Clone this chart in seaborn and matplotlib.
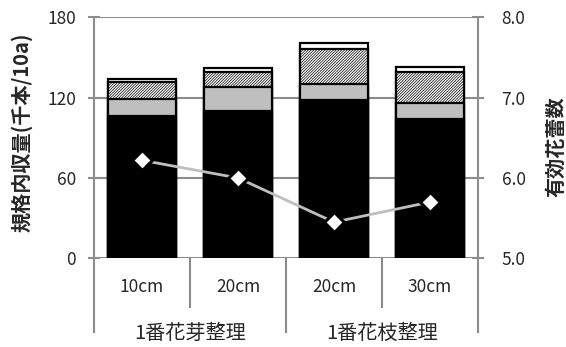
import matplotlib
matplotlib.use("Agg")
import matplotlib.pyplot as plt
import matplotlib.transforms as mtransforms
import numpy as np
import pandas as pd
import seaborn as sns

# Treatments: pruning method (group) and length (sub-category)
groups = ["1番花芽整理", "1番花芽整理", "1番花枝整理", "1番花枝整理"]
lengths = ["10cm", "20cm", "20cm", "30cm"]

# Marketable yield (thousand stems / 10a), stacked by grade
yield_black = [106, 110, 118, 104]
yield_gray = [13, 18, 12, 12]
yield_hatched = [13, 11, 26, 23]
yield_white = [2, 3, 5, 4]

# Effective flower buds per stem (right axis)
flower_buds = [6.22, 6.0, 5.45, 5.7]

AXIS_GRAY = "#8c8c8c"
LIGHT_GRAY = "#bfbfbf"

sns.set_style("white")
plt.rcParams["font.family"] = ["Noto Sans CJK JP", "DejaVu Sans"]
plt.rcParams["hatch.linewidth"] = 0.5

treat = [g + " " + l for g, l in zip(groups, lengths)]
c1 = np.array(yield_black)
c2 = c1 + np.array(yield_gray)
c3 = c2 + np.array(yield_hatched)
c4 = c3 + np.array(yield_white)
df = pd.DataFrame({"treat": treat, "c1": c1, "c2": c2, "c3": c3, "c4": c4,
                   "buds": flower_buds})

fig = plt.figure(figsize=(5.66, 3.47), dpi=100)
ax = fig.add_axes([94 / 566, 88.7 / 347, 384 / 566, 241 / 347])

common = dict(data=df, x="treat", order=treat, ax=ax, width=0.7,
              errorbar=None, edgecolor="black", linewidth=1.6)
sns.barplot(y="c4", color="white", **common)
sns.barplot(y="c3", color="white", hatch="////////////", **common)
sns.barplot(y="c2", color=LIGHT_GRAY, **common)
sns.barplot(y="c1", color="black", **common)

ax.set_ylim(0, 180)
ax.set_yticks([0, 60, 120, 180])
ax.set_xlim(-0.5, 3.5)
ax.set_axisbelow(True)
ax.yaxis.grid(True, color=AXIS_GRAY, linewidth=1.5)
for s in ax.spines.values():
    s.set_visible(False)
ax.tick_params(axis="y", direction="inout", length=8, width=1.5,
               color=AXIS_GRAY, labelsize=12.5, pad=9, left=True)
ax.set_xticks(range(len(lengths)))
ax.set_xticklabels(lengths)
ax.tick_params(axis="x", length=0, labelsize=12.5, pad=14)
ax.set_xlabel("")
ax.set_ylabel("規格内収量(千本/10a)", fontsize=14.5, fontweight="bold",
              va="center", ha="center")
ax.yaxis.set_label_coords(-0.188, 0.522)

# Multi-level category axis: frame lines and separators
trans = mtransforms.blended_transform_factory(ax.transData, ax.transAxes)
line_kw = dict(color=AXIS_GRAY, linewidth=1.5, clip_on=False,
               solid_capstyle="butt")
n = len(treat)
for i in range(n + 1):
    xb = i - 0.5
    major = (i == 0 or i == n or groups[i - 1] != groups[i])
    low = -0.31 if major else -0.206
    top = 1.0 if i in (0, n) else 0.0
    ax.plot([xb, xb], [top, low], transform=trans, **line_kw)

uniq = list(dict.fromkeys(groups))
for g in uniq:
    idx = [i for i, gg in enumerate(groups) if gg == g]
    ax.text(np.mean(idx), -0.31, g, transform=trans, ha="center",
            va="center", fontsize=14.5)

# Right axis: flower buds
ax2 = ax.twinx()
sns.pointplot(data=df, x="treat", y="buds", order=treat, ax=ax2,
              color=LIGHT_GRAY, markers="D", errorbar=None,
              linewidth=2, markersize=10.5, markerfacecolor="white",
              markeredgecolor="black", markeredgewidth=2.2)
ax2.set_ylim(5.0, 8.0)
ax2.set_yticks([5.0, 6.0, 7.0, 8.0])
ax2.set_yticklabels([f"{v:.1f}" for v in [5.0, 6.0, 7.0, 8.0]])
ax2.set_xlim(-0.5, 3.5)
for s in ax2.spines.values():
    s.set_visible(False)
ax2.tick_params(axis="y", direction="inout", length=8, width=1.5,
                color=AXIS_GRAY, labelsize=12.5, pad=13, right=True)
ax2.set_ylabel("有効花蕾数", fontsize=14.5, fontweight="bold",
               rotation=90, va="center", ha="center")
ax2.yaxis.set_label_coords(1.203, 0.463)
ax2.set_xlabel("")

fig.savefig("out.png", dpi=100)
